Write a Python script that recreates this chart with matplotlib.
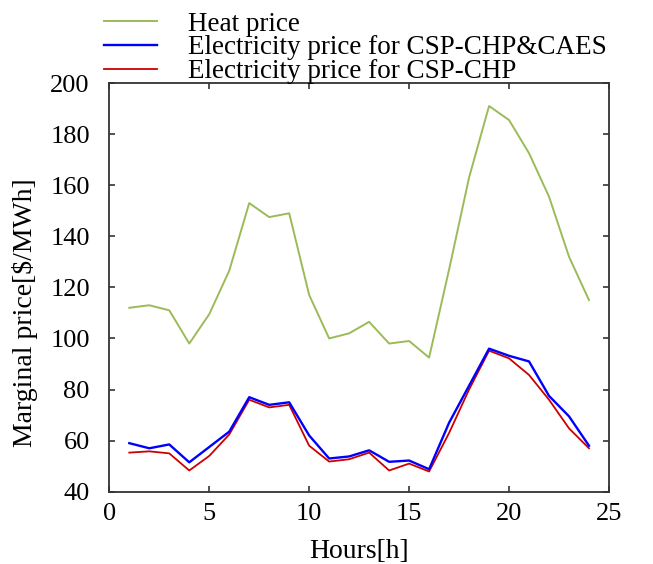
import matplotlib.pyplot as plt
import numpy as np

plt.rcParams["font.family"] = ["Liberation Serif", "DejaVu Serif"]

hours = np.arange(1, 25)
heat_price = [112, 113, 111, 98, 109.5, 126.5, 153, 147.5, 149, 117,
              100, 102, 106.5, 98, 99, 92.5, 127, 163, 191, 185.5,
              172.5, 155.5, 132, 115]
elec_caes = [59, 57, 58.5, 51.5, 57.5, 63.5, 77, 74, 75, 62,
             53, 53.8, 56.2, 51.7, 52.2, 48.8, 67, 81.5, 96, 93.2,
             91, 77.5, 69.5, 58]
elec_chp = [55.3, 55.8, 55, 48.3, 54, 62.4, 76, 73, 74, 58,
            51.8, 52.7, 55.3, 48.3, 51, 47.9, 63, 80, 95.2, 92.2,
            85.7, 76, 64.8, 57]

fig = plt.figure(figsize=(6.53, 5.64), dpi=100)
ax = fig.add_axes([0.1674, 0.1282, 0.7652, 0.7246])

l_heat, = ax.plot(hours, heat_price, color="#9BBB59", lw=1.4, label="Heat price")
l_chp, = ax.plot(hours, elec_chp, color="#CC0000", lw=1.3,
                 label="Electricity price for CSP-CHP")
l_caes, = ax.plot(hours, elec_caes, color="#0000FF", lw=1.7,
                  label="Electricity price for CSP-CHP&CAES")

ax.set_xlim(0, 25)
ax.set_ylim(40, 200)
ax.set_xticks(np.arange(0, 26, 5))
ax.set_yticks(np.arange(40, 201, 20))
ax.tick_params(direction="in", length=4, width=1.2, top=True, right=True,
               labelsize=19, color="#333333")
ax.tick_params(axis="y", pad=14)
ax.tick_params(axis="x", pad=8)
for sp in ax.spines.values():
    sp.set_color("#333333")
    sp.set_linewidth(1.3)

ax.set_xlabel("Hours[h]", fontsize=20, labelpad=10)
ax.set_ylabel(r"Marginal price[\$/MWh]", fontsize=20)
ax.yaxis.set_label_coords(-0.143, 0.438)

# legend sits above the axes, no frame
fig.legend(handles=[l_heat, l_caes, l_chp], loc="upper left",
           bbox_to_anchor=(0.159, 0.979), frameon=False, fontsize=19.5,
           handlelength=1.95, handletextpad=1.15, labelspacing=-0.05,
           borderpad=0.0, borderaxespad=0.0)

fig.savefig("out.png", dpi=100)
